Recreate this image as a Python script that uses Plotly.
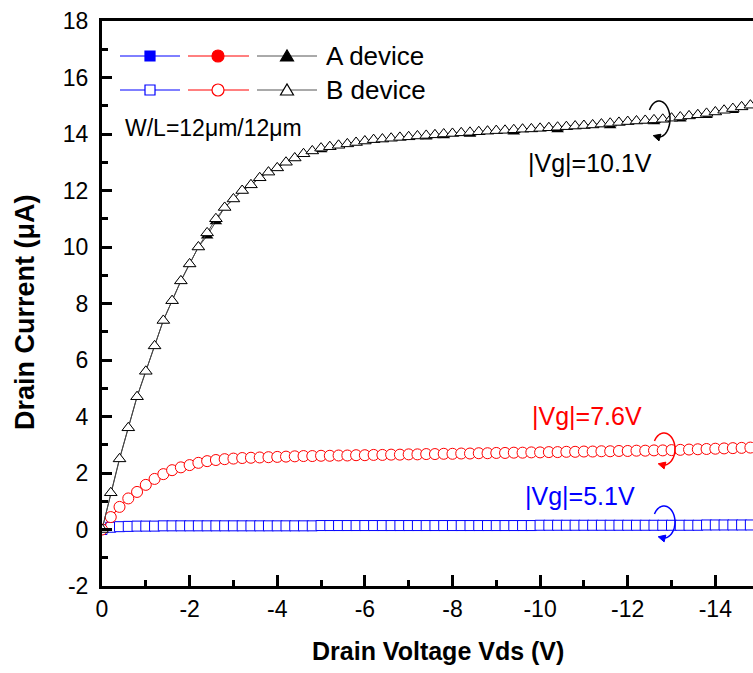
import math
import plotly.graph_objects as go

# ---------------- data ----------------
vds = [0.0, -0.2, -0.4, -0.6, -0.8, -1.0, -1.2, -1.4, -1.6, -1.8,
       -2.0, -2.2, -2.4, -2.6, -2.8, -3.0, -3.2, -3.4, -3.6, -3.8,
       -4.0, -4.2, -4.4, -4.6, -4.8, -5.0, -5.2, -5.4, -5.6, -5.8,
       -6.0, -6.2, -6.4, -6.6, -6.8, -7.0, -7.2, -7.4, -7.6, -7.8,
       -8.0, -8.2, -8.4, -8.6, -8.8, -9.0, -9.2, -9.4, -9.6, -9.8,
       -10.0, -10.2, -10.4, -10.6, -10.8, -11.0, -11.2, -11.4, -11.6, -11.8,
       -12.0, -12.2, -12.4, -12.6, -12.8, -13.0, -13.2, -13.4, -13.6, -13.8,
       -14.0, -14.2, -14.4, -14.6, -14.8]

# B device (open symbols)
ib_10p1 = [0.0, 1.3, 2.5, 3.6, 4.7, 5.6, 6.5, 7.4, 8.1, 8.8,
           9.4, 10.0, 10.5, 11.0, 11.4, 11.7, 12.0, 12.2, 12.45, 12.65,
           12.8, 13.0, 13.15, 13.3, 13.4, 13.5, 13.55, 13.6, 13.65, 13.7,
           13.75, 13.8, 13.82, 13.85, 13.88, 13.9, 13.93, 13.95, 13.97, 14.0,
           14.02, 14.04, 14.06, 14.08, 14.1, 14.12, 14.13, 14.15, 14.17, 14.18,
           14.2, 14.22, 14.24, 14.26, 14.28, 14.3, 14.32, 14.35, 14.38, 14.41,
           14.44, 14.46, 14.48, 14.5, 14.52, 14.56, 14.6, 14.64, 14.68, 14.73,
           14.78, 14.84, 14.9, 14.96, 15.02]
ib_7p6 = [0.0, 0.44, 0.8, 1.1, 1.33, 1.58, 1.79, 1.96, 2.1, 2.2,
          2.28, 2.36, 2.42, 2.46, 2.49, 2.51, 2.53, 2.54, 2.55, 2.56,
          2.57, 2.58, 2.59, 2.6, 2.6, 2.61, 2.61, 2.62, 2.62, 2.63,
          2.63, 2.64, 2.64, 2.65, 2.65, 2.66, 2.66, 2.67, 2.67, 2.68,
          2.68, 2.69, 2.69, 2.7, 2.7, 2.71, 2.71, 2.72, 2.72, 2.73,
          2.73, 2.74, 2.74, 2.75, 2.75, 2.76, 2.76, 2.77, 2.77, 2.78,
          2.78, 2.79, 2.79, 2.8, 2.8, 2.81, 2.82, 2.83, 2.84, 2.85,
          2.86, 2.87, 2.88, 2.89, 2.9]
ib_5p1 = [0.0, 0.08, 0.1, 0.11, 0.12, 0.12, 0.12, 0.13, 0.13, 0.13,
          0.13, 0.13, 0.13, 0.13, 0.13, 0.13, 0.13, 0.13, 0.13, 0.13,
          0.13, 0.13, 0.13, 0.13, 0.13, 0.14, 0.14, 0.14, 0.14, 0.14,
          0.14, 0.14, 0.14, 0.14, 0.14, 0.14, 0.14, 0.14, 0.14, 0.14,
          0.14, 0.14, 0.14, 0.14, 0.14, 0.14, 0.14, 0.14, 0.14, 0.14,
          0.15, 0.15, 0.15, 0.15, 0.15, 0.15, 0.15, 0.15, 0.15, 0.15,
          0.15, 0.15, 0.15, 0.15, 0.15, 0.15, 0.15, 0.15, 0.15, 0.16,
          0.16, 0.16, 0.16, 0.16, 0.16]

# A device (filled symbols) - mostly hidden beneath B symbols
ia_10p1 = [0.0, 1.3, 2.5, 3.6, 4.7, 5.6, 6.5, 7.4, 8.1, 8.8,
           9.4, 10.0, 10.4, 10.9, 11.4, 11.7, 12.0, 12.2, 12.45, 12.65,
           12.8, 13.0, 13.15, 13.3, 13.4, 13.45, 13.55, 13.6, 13.65, 13.7,
           13.75, 13.8, 13.82, 13.85, 13.88, 13.9, 13.93, 13.9, 13.97, 13.95,
           14.02, 14.04, 14.0, 14.08, 14.1, 14.12, 14.13, 14.08, 14.17, 14.18,
           14.2, 14.22, 14.16, 14.26, 14.28, 14.3, 14.32, 14.35, 14.3, 14.41,
           14.44, 14.46, 14.48, 14.44, 14.52, 14.56, 14.54, 14.64, 14.68, 14.66,
           14.78, 14.84, 14.84, 14.96, 15.02]
ia_7p6 = list(ib_7p6)
ia_5p1 = list(ib_5p1)

x_tickvals = [0, -2, -4, -6, -8, -10, -12, -14]
x_ticktext = ["0", "-2", "-4", "-6", "-8", "-10", "-12", "-14"]
y_tickvals = [-2, 0, 2, 4, 6, 8, 10, 12, 14, 16, 18]
y_ticktext = ["-2", "0", "2", "4", "6", "8", "10", "12", "14", "16", "18"]

# ---------------- layout constants ----------------
W, H = 753, 673
ML, MR, MT, MB = 102, 0, 21, 87
PW, PH = W - ML - MR, H - MT - MB
FONT = "Arial, Liberation Sans, sans-serif"

BLUE = "#0000ff"
RED = "#ff0000"
BLACK = "#000000"


def P(px, py):
    return (px - ML) / PW, (H - MB - py) / PH


fig = go.Figure()

# A device first (filled), then B device on top (open, white-filled)
fig.add_trace(go.Scatter(x=vds, y=ia_5p1, mode="lines+markers",
                         line=dict(color=BLUE, width=1),
                         marker=dict(symbol="square", size=9, color=BLUE),
                         showlegend=False))
fig.add_trace(go.Scatter(x=vds, y=ia_7p6, mode="lines+markers",
                         line=dict(color=RED, width=1),
                         marker=dict(symbol="circle", size=10, color=RED),
                         showlegend=False))
fig.add_trace(go.Scatter(x=vds, y=ia_10p1, mode="lines+markers",
                         line=dict(color="#444444", width=1),
                         marker=dict(symbol="triangle-up", size=11, color=BLACK),
                         showlegend=False))
fig.add_trace(go.Scatter(x=vds, y=ib_5p1, mode="lines+markers",
                         line=dict(color=BLUE, width=1),
                         marker=dict(symbol="square", size=10, color="white",
                                     line=dict(color=BLUE, width=1)),
                         showlegend=False))
fig.add_trace(go.Scatter(x=vds, y=ib_7p6, mode="lines+markers",
                         line=dict(color=RED, width=1),
                         marker=dict(symbol="circle", size=11, color="white",
                                     line=dict(color=RED, width=1)),
                         showlegend=False))
fig.add_trace(go.Scatter(x=vds, y=ib_10p1, mode="lines+markers",
                         line=dict(color="#444444", width=1),
                         marker=dict(symbol="triangle-up", size=11, color="white",
                                     line=dict(color=BLACK, width=1)),
                         showlegend=False))

shapes = []
annotations = []

# ---------- manual legend ----------
rows = [(56, "A device", True), (90, "B device", False)]
segs = [(120, 180, 150, BLUE, "sq"), (188, 249, 218, RED, "ci"), (257, 317, 287, "#555555", "tr")]
for py, label, filled in rows:
    for x0, x1, xc, col, kind in segs:
        a = P(x0, py)
        b = P(x1, py)
        shapes.append(dict(type="line", xref="paper", yref="paper",
                           x0=a[0], y0=a[1], x1=b[0], y1=b[1],
                           line=dict(color=col, width=1)))
        mcol = BLACK if kind == "tr" else col
        fill = mcol if filled else "white"
        if kind == "sq":
            c0 = P(xc - 5, py - 5)
            c1 = P(xc + 5, py + 5)
            shapes.append(dict(type="rect", xref="paper", yref="paper",
                               x0=c0[0], y0=c0[1], x1=c1[0], y1=c1[1],
                               fillcolor=fill, line=dict(color=mcol, width=1.2)))
        elif kind == "ci":
            c0 = P(xc - 6, py - 6)
            c1 = P(xc + 6, py + 6)
            shapes.append(dict(type="circle", xref="paper", yref="paper",
                               x0=c0[0], y0=c0[1], x1=c1[0], y1=c1[1],
                               fillcolor=fill, line=dict(color=mcol, width=1.2)))
        else:
            p1 = P(xc - 6.5, py + 5)
            p2 = P(xc + 6.5, py + 5)
            p3 = P(xc, py - 6)
            path = f"M{p1[0]},{p1[1]} L{p2[0]},{p2[1]} L{p3[0]},{p3[1]} Z"
            shapes.append(dict(type="path", xref="paper", yref="paper", path=path,
                               fillcolor=fill, line=dict(color=mcol, width=1.2)))
    tp = P(324, py)
    annotations.append(dict(x=tp[0], y=tp[1], xref="paper", yref="paper",
                            text=label, showarrow=False, xanchor="left", yanchor="middle",
                            font=dict(family=FONT, size=26, color=BLACK)))

# W/L text
tp = P(123, 128)
annotations.append(dict(x=tp[0], y=tp[1], xref="paper", yref="paper",
                        text="W/L=12\u03bcm/12\u03bcm", showarrow=False,
                        xanchor="left", yanchor="middle",
                        font=dict(family=FONT, size=23, color=BLACK)))

# Vg labels
for (cx, cy, txt, col) in [(590, 163, "|Vg|=10.1V", BLACK),
                           (587, 416, "|Vg|=7.6V", RED),
                           (580, 496, "|Vg|=5.1V", BLUE)]:
    tp = P(cx, cy)
    annotations.append(dict(x=tp[0], y=tp[1], xref="paper", yref="paper",
                            text=txt, showarrow=False, xanchor="center", yanchor="middle",
                            font=dict(family=FONT, size=25, color=col)))


# curved arrows around each curve
def curved_arrow(cx, cy, rx, ry, col):
    t0, t1 = math.radians(-150), math.radians(100)
    n = 40
    pts = []
    for i in range(n + 1):
        t = t0 + (t1 - t0) * i / n
        pts.append(P(cx + rx * math.cos(t), cy + ry * math.sin(t)))
    path = "M" + " L".join(f"{p[0]},{p[1]}" for p in pts)
    shapes.append(dict(type="path", xref="paper", yref="paper", path=path,
                       line=dict(color=col, width=1.5)))
    ex, ey = cx + rx * math.cos(t1), cy + ry * math.sin(t1)
    dx, dy = -rx * math.sin(t1), ry * math.cos(t1)
    dl = math.hypot(dx, dy)
    dx, dy = dx / dl, dy / dl
    nx, ny = -dy, dx
    tip = P(ex + dx * 4, ey + dy * 4)
    b1 = P(ex - dx * 3 + nx * 3.5, ey - dy * 3 + ny * 3.5)
    b2 = P(ex - dx * 3 - nx * 3.5, ey - dy * 3 - ny * 3.5)
    shapes.append(dict(type="path", xref="paper", yref="paper",
                       path=f"M{tip[0]},{tip[1]} L{b1[0]},{b1[1]} L{b2[0]},{b2[1]} Z",
                       fillcolor=col, line=dict(color=col, width=1)))


curved_arrow(659, 119, 11, 18, BLACK)
curved_arrow(664, 449, 11, 16, RED)
curved_arrow(664, 522, 11, 16, BLUE)

# axis titles
tp = P(438, 651)
annotations.append(dict(x=tp[0], y=tp[1], xref="paper", yref="paper",
                        text="<b>Drain Voltage Vds (V)</b>", showarrow=False,
                        xanchor="center", yanchor="middle",
                        font=dict(family=FONT, size=25, color=BLACK)))
tp = P(25, 312)
annotations.append(dict(x=tp[0], y=tp[1], xref="paper", yref="paper",
                        text="<b>Drain Current (\u03bcA)</b>", showarrow=False,
                        textangle=-90, xanchor="center", yanchor="middle",
                        font=dict(family=FONT, size=27, color=BLACK)))

fig.update_layout(
    width=W, height=H,
    margin=dict(l=ML, r=MR, t=MT, b=MB, pad=0),
    paper_bgcolor="white", plot_bgcolor="white",
    showlegend=False,
    shapes=shapes, annotations=annotations,
    xaxis=dict(range=[0, -14.86], tickmode="array", tickvals=x_tickvals, ticktext=x_ticktext,
               ticks="inside", ticklen=11, tickwidth=2.5, tickcolor=BLACK,
               showline=True, linewidth=3, linecolor=BLACK, mirror=True,
               showgrid=False, zeroline=False,
               tickfont=dict(family=FONT, size=23, color=BLACK),
               minor=dict(ticks="inside", tickmode="linear", tick0=0, dtick=1,
                          ticklen=6, tickwidth=2.5, tickcolor=BLACK, showgrid=False)),
    yaxis=dict(range=[-2, 18], tickmode="array", tickvals=y_tickvals, ticktext=y_ticktext,
               ticks="inside", ticklen=10, tickwidth=2.5, tickcolor=BLACK,
               showline=True, linewidth=3, linecolor=BLACK, mirror=False,
               showgrid=False, zeroline=False, ticklabelstandoff=6,
               tickfont=dict(family=FONT, size=23, color=BLACK),
               minor=dict(ticks="inside", tickmode="linear", tick0=0, dtick=1,
                          ticklen=6, tickwidth=2.5, tickcolor=BLACK, showgrid=False)),
)

fig.write_html("out.html")
